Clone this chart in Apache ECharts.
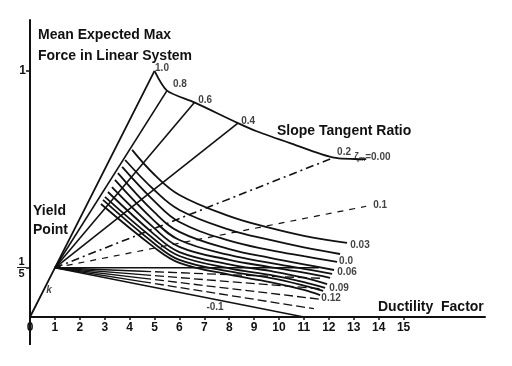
<!DOCTYPE html>
<html>
<head>
<meta charset="utf-8">
<script src="https://cdn.jsdelivr.net/npm/echarts@6/dist/echarts.min.js"></script>
<style>
  html, body { margin: 0; padding: 0; background: #fff; }
  #chart { width: 512px; height: 366px; }
</style>
</head>
<body>
<div id="chart"></div>
<script>
// Ductility factor ticks and force ticks
const xTickValues = [0, 1, 2, 3, 4, 5, 6, 7, 8, 9, 10, 11, 12, 13, 14, 15];
const yTickValues = [0.2, 1];

// Axis strokes carried past the origin
const xAxisBackReach = -0.8;
const yAxisDownReach = -0.114;

// Yield point and elastic stiffness (force per unit ductility)
const yieldPoint = [1, 0.2];
const elasticSlope = 0.2;
const elasticEnd = [5, 1];

// Post-yield branches reaching the linear-system envelope
const upperRatios = [0.8, 0.6, 0.4, 0.2];
const upperEndX = [5.5, 6.6, 8.35, 12.2];

// Envelope points between and beyond the branch intersections
const envelopeMid = [[9.1, 0.755], [10.5, 0.705]];
const envelopeTail = [[13.5, 0.642]];

// Shallow branch drawn to the right edge
const ratioTenth = 0.1;
const ratioTenthEndX = 13.5;

// Zero and softening branches from the yield point
const lowerRatios = [0, -0.02, -0.04, -0.06, -0.08, -0.1];
const lowerEndX = [11.6, 11.8, 11.7, 11.6, 11.4, 11.0];
const lowerSolidUntil = 4.5;

// Constant-damping curves (top to bottom)
const damping1 = [[4.10, 0.679], [5, 0.578], [6, 0.496], [8, 0.410], [9.64, 0.362], [11, 0.330], [12.73, 0.301]];
const damping2 = [[3.82, 0.638], [5, 0.515], [6, 0.435], [8, 0.355], [9.64, 0.313], [11, 0.283], [12.45, 0.256]];
const damping3 = [[3.70, 0.610], [5, 0.470], [6, 0.386], [8, 0.310], [9.64, 0.272], [11, 0.247], [12.33, 0.224]];
const damping4 = [[3.53, 0.585], [5, 0.425], [6, 0.346], [8, 0.276], [9.64, 0.240], [11, 0.214], [12.21, 0.191]];
const damping5 = [[3.41, 0.557], [5, 0.390], [6, 0.313], [8, 0.252], [9.64, 0.220], [11, 0.196], [12.13, 0.175]];
const damping6 = [[3.29, 0.528], [5, 0.360], [6, 0.285], [8, 0.232], [9.64, 0.203], [11, 0.180], [12.05, 0.159]];
const damping7 = [[3.13, 0.508], [5, 0.335], [6, 0.264], [8, 0.214], [9.64, 0.187], [11, 0.160], [11.93, 0.134]];
const damping8 = [[3.01, 0.488], [5, 0.315], [6, 0.248], [8, 0.198], [9.64, 0.171], [11, 0.142], [11.85, 0.118]];
const damping9 = [[2.93, 0.476], [5, 0.298], [6, 0.232], [8, 0.185], [9.64, 0.159], [11, 0.128], [11.77, 0.106]];
const damping10 = [[2.85, 0.459], [5, 0.282], [6, 0.220], [8, 0.172], [9.64, 0.142], [11, 0.110], [11.65, 0.089]];
const dampingCurves = [damping1, damping2, damping3, damping4, damping5, damping6, damping7, damping8, damping9, damping10];

// Annotations: [x, y, text]
const annotations = [
  [5.30, 1.012, '1.0'],
  [6.02, 0.947, '0.8'],
  [7.03, 0.882, '0.6'],
  [8.76, 0.797, '0.4'],
  [12.61, 0.671, '0.2'],
  [14.06, 0.455, '0.1'],
  [13.25, 0.293, '0.03'],
  [12.69, 0.226, '0.0'],
  [12.73, 0.180, '0.06'],
  [12.41, 0.118, '0.09'],
  [12.09, 0.077, '0.12'],
  [7.43, 0.041, '-0.1']
];
const dampingZeroLabel = [13.75, 0.650];
const stiffnessLabel = [0.76, 0.110, 'k'];

const INK = '#111';
const FONT = 'Liberation Sans';

function branch(ratio, x0, x1) {
  const s = ratio * elasticSlope;
  return [[x0, yieldPoint[1] + s * (x0 - yieldPoint[0])], [x1, yieldPoint[1] + s * (x1 - yieldPoint[0])]];
}

const series = [];

// Axis strokes extended past the origin
series.push({ type: 'line', data: [[xAxisBackReach, 0], [0, 0]], symbol: 'none', clip: false,
  lineStyle: { color: INK, width: 2 } });
series.push({ type: 'line', data: [[0, 0], [0, yAxisDownReach]], symbol: 'none', clip: false,
  lineStyle: { color: INK, width: 2 } });

// Elastic line through the yield point
series.push({ type: 'line', data: [[0, 0], yieldPoint, elasticEnd], symbol: 'none',
  lineStyle: { color: INK, width: 1.8 } });

// Upper branches
upperRatios.forEach((r, i) => {
  series.push({ type: 'line', data: branch(r, yieldPoint[0], upperEndX[i]), symbol: 'none',
    lineStyle: { color: INK, width: 1.6, type: r === 0.2 ? [8, 4, 2, 4] : 'solid' } });
});

// Envelope of mean expected max force
const envelope = [elasticEnd];
upperRatios.forEach((r, i) => envelope.push(branch(r, yieldPoint[0], upperEndX[i])[1]));
envelopeMid.forEach(q => envelope.push(q));
envelopeTail.forEach(q => envelope.push(q));
envelope.sort((a, b) => a[0] - b[0]);
series.push({ type: 'line', data: envelope, symbol: 'none', smooth: 0.25,
  lineStyle: { color: INK, width: 1.8 } });

// 0.1 branch
series.push({ type: 'line', data: branch(ratioTenth, yieldPoint[0], ratioTenthEndX), symbol: 'none',
  lineStyle: { color: INK, width: 1.2, type: [6, 6] } });

// Zero and negative branches
lowerRatios.forEach((r, i) => {
  const solidAll = (r === 0 || r === -0.1);
  if (solidAll) {
    series.push({ type: 'line', data: branch(r, yieldPoint[0], lowerEndX[i]), symbol: 'none',
      lineStyle: { color: INK, width: 1.4 } });
  } else {
    series.push({ type: 'line', data: branch(r, yieldPoint[0], lowerSolidUntil), symbol: 'none',
      lineStyle: { color: INK, width: 1.4 } });
    series.push({ type: 'line', data: branch(r, lowerSolidUntil, lowerEndX[i]), symbol: 'none',
      lineStyle: { color: INK, width: 1.3, type: [9, 4] } });
  }
});

// Damping curves
dampingCurves.forEach(c => {
  series.push({ type: 'line', data: c, symbol: 'none', smooth: 0.4,
    lineStyle: { color: INK, width: 1.8 } });
});

// Value annotations
series.push({
  type: 'scatter', symbolSize: 0, silent: true,
  data: annotations.map(a => ({ value: [a[0], a[1]], name: a[2] })),
  label: { show: true, position: 'inside', formatter: p => p.name,
    color: INK, fontFamily: FONT, fontWeight: 'bold', fontSize: 10 }
});
series.push({
  type: 'scatter', symbolSize: 0, silent: true,
  data: [{ value: dampingZeroLabel, name: 'z' }],
  label: { show: true, position: 'inside', formatter: '{a|ζ}{s|m}{a|=0.00}',
    rich: {
      a: { color: INK, fontFamily: FONT, fontWeight: 'bold', fontSize: 10 },
      s: { color: INK, fontFamily: FONT, fontWeight: 'bold', fontSize: 7, padding: [5, 0, 0, 0] }
    } }
});
series.push({
  type: 'scatter', symbolSize: 0, silent: true,
  data: [{ value: [stiffnessLabel[0], stiffnessLabel[1]], name: stiffnessLabel[2] }],
  label: { show: true, position: 'inside', formatter: p => p.name,
    color: INK, fontFamily: FONT, fontWeight: 'bold', fontStyle: 'italic', fontSize: 10 }
});

const textStyle = { fill: INK, font: 'bold 14px "Liberation Sans"' };

const option = {
  backgroundColor: '#fff',
  animation: false,
  grid: { left: 30, right: 27, top: 20, bottom: 49, outerBoundsMode: 'none' },
  xAxis: {
    type: 'value', min: 0, max: 18.27,
    axisLine: { onZero: false, lineStyle: { color: INK, width: 2 } },
    axisTick: { show: true, customValues: xTickValues, length: 3, lineStyle: { color: INK, width: 1.5 } },
    axisLabel: { customValues: xTickValues, color: INK, fontFamily: FONT, fontWeight: 'bold', fontSize: 12, margin: 5 },
    splitLine: { show: false }
  },
  yAxis: {
    type: 'value', min: 0, max: 1.207,
    axisLine: { show: true, onZero: false, lineStyle: { color: INK, width: 2 } },
    axisTick: { show: true, customValues: yTickValues, length: 4, lineStyle: { color: INK, width: 1.5 } },
    axisLabel: {
      customValues: yTickValues, margin: 4,
      formatter: v => (v === 1 ? '{m|1}' : '{f|1}\n{b|—}\n{f|5}'),
      rich: {
        m: { color: INK, fontFamily: FONT, fontWeight: 'bold', fontSize: 12 },
        f: { color: INK, fontFamily: FONT, fontWeight: 'bold', fontSize: 11, lineHeight: 9, align: 'center' },
        b: { color: INK, fontFamily: FONT, fontWeight: 'bold', fontSize: 9, lineHeight: 3, align: 'center' }
      }
    },
    splitLine: { show: false }
  },
  graphic: [
    { type: 'text', left: 38, top: 28, style: Object.assign({ text: 'Mean Expected Max' }, textStyle) },
    { type: 'text', left: 38, top: 49, style: Object.assign({ text: 'Force in Linear System' }, textStyle) },
    { type: 'text', left: 277, top: 124, style: Object.assign({ text: 'Slope Tangent Ratio' }, textStyle) },
    { type: 'text', left: 33, top: 204, style: Object.assign({ text: 'Yield' }, textStyle) },
    { type: 'text', left: 33, top: 223, style: Object.assign({ text: 'Point' }, textStyle) },
    { type: 'text', left: 378, top: 300, style: Object.assign({ text: 'Ductility  Factor' }, textStyle) }
  ],
  series: series
};

const chart = echarts.init(document.getElementById('chart'), null, { renderer: 'canvas' });
chart.setOption(option);
</script>
</body>
</html>
